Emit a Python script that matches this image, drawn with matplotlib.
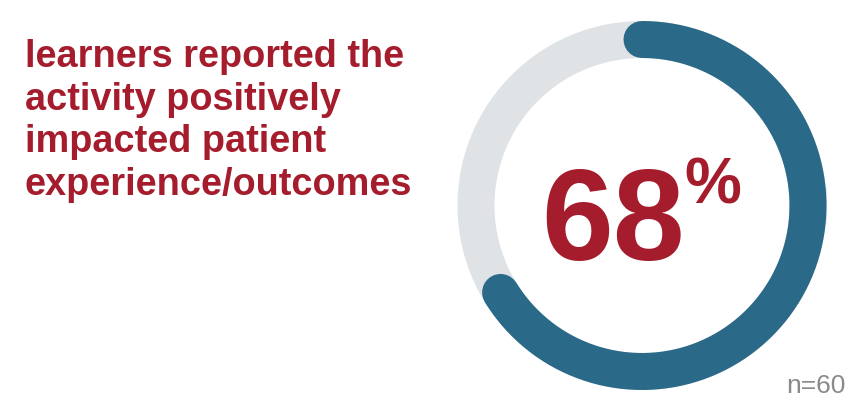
import numpy as np
import matplotlib
matplotlib.use("Agg")
import matplotlib.pyplot as plt

# data
share = 68          # percent of learners
n_total = 60
label_lines = ["learners reported the",
               "activity positively",
               "impacted patient",
               "experience/outcomes"]

red = "#a51c2c"
blue = "#2a6987"
grey = "#dfe3e6"

plt.rcParams['font.family'] = ['Liberation Sans', 'DejaVu Sans']

fig = plt.figure(figsize=(8.57, 4.01), dpi=100)
ax = fig.add_axes([0, 0, 1, 1])
ax.set_xlim(0, 857)
ax.set_ylim(401, 0)
ax.axis('off')

cx, cy, r = 642, 205.5, 166
w_px = 37
ring_w = w_px * 0.72  # px -> pt

# background ring
t = np.linspace(0, 2 * np.pi, 400)
ax.plot(cx + r * np.cos(t), cy + r * np.sin(t), color=grey, lw=ring_w)

# value arc, clockwise from 12 o'clock; round cap kept inside the share
cap = (w_px / 2) / r
ang = np.linspace(0, 2 * np.pi * share / 100 - cap, 400)
ax.plot(cx + r * np.sin(ang), cy - r * np.cos(ang), color=blue, lw=ring_w,
        solid_capstyle='round')

# big number
ax.text(613, 260, str(share), ha='center', va='baseline', color=red,
        fontsize=93, fontweight='bold')
ax.text(684, 204, "%", ha='left', va='baseline', color=red,
        fontsize=46, fontweight='bold')

# left text
for i, line in enumerate(label_lines):
    ax.text(25, 67 + i * 42.7, line, ha='left', va='baseline', color=red,
            fontsize=27.3, fontweight='bold')

ax.text(846, 398, "n=%d" % n_total, ha='right', va='bottom', color="#8a8a8a",
        fontsize=19)

fig.savefig("out.png", dpi=100)
